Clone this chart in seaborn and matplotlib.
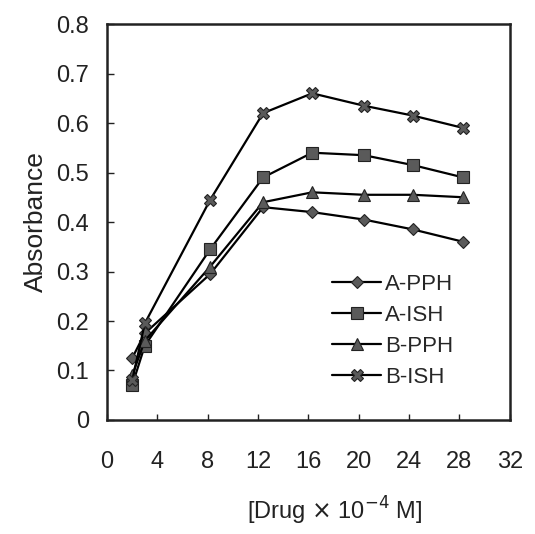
import numpy as np
import pandas as pd
import matplotlib
matplotlib.use('Agg')
import matplotlib.pyplot as plt
import seaborn as sns

# --- dados ---
conc = [2.0, 3.0, 8.2, 12.4, 16.3, 20.4, 24.3, 28.3]
a_pph = [0.125, 0.175, 0.295, 0.43, 0.42, 0.405, 0.385, 0.36]
a_ish = [0.07, 0.15, 0.345, 0.49, 0.54, 0.535, 0.515, 0.49]
b_pph = [0.09, 0.16, 0.31, 0.44, 0.46, 0.455, 0.455, 0.45]
b_ish = [0.08, 0.195, 0.445, 0.62, 0.66, 0.635, 0.615, 0.59]
series_names = ['A-PPH', 'A-ISH', 'B-PPH', 'B-ISH']
xticks = [0, 4, 8, 12, 16, 20, 24, 28, 32]
yticks = [0, 0.1, 0.2, 0.3, 0.4, 0.5, 0.6, 0.7, 0.8]

sns.set_style('ticks')
plt.rcParams['font.family'] = ['Liberation Sans', 'DejaVu Sans']

fig, ax = plt.subplots(figsize=(5.35, 5.34), dpi=100)
fig.subplots_adjust(left=0.2, right=0.953, top=0.955, bottom=0.2135)

# estilo de cada série
markers = {'A-PPH': ('D', 6), 'A-ISH': ('s', 8), 'B-PPH': ('^', 8), 'B-ISH': ('X', 9)}
values = {'A-PPH': a_pph, 'A-ISH': a_ish, 'B-PPH': b_pph, 'B-ISH': b_ish}

for name in series_names:
    m, ms = markers[name]
    sns.lineplot(x=conc, y=values[name], ax=ax, color='black', linewidth=1.6,
                 marker=m, markersize=ms, markerfacecolor='#5a5a5a',
                 markeredgecolor='#222222', markeredgewidth=0.8, label=name)

ax.set_xlim(0, 32)
ax.set_ylim(0, 0.8)
ax.set_xticks(xticks)
ax.set_xticklabels([str(t) for t in xticks])
ax.set_yticks(yticks)
ax.set_yticklabels(['0' if t == 0 else f'{t:.1f}' for t in yticks])
ax.tick_params(axis='x', direction='in', length=4, width=1, pad=22,
               labelsize=17, colors='#222222')
ax.tick_params(axis='y', direction='in', length=5, width=1, pad=13,
               labelsize=17, colors='#222222')
for sp in ax.spines.values():
    sp.set_linewidth(1.8)
    sp.set_color('#222222')

ax.set_ylabel('Absorbance', fontsize=19, color='#222222', labelpad=6)
ax.set_xlabel('[Drug $\\times$ 10$^{-4}$ M]', fontsize=17, color='#222222', labelpad=16)
ax.xaxis.label.set_x(0.565)

ax.legend(loc='upper left', bbox_to_anchor=(0.51, 0.42), frameon=False,
          fontsize=16, handlelength=2.2, handletextpad=0.15, labelspacing=0.45)

plt.savefig('out.png', dpi=100)
